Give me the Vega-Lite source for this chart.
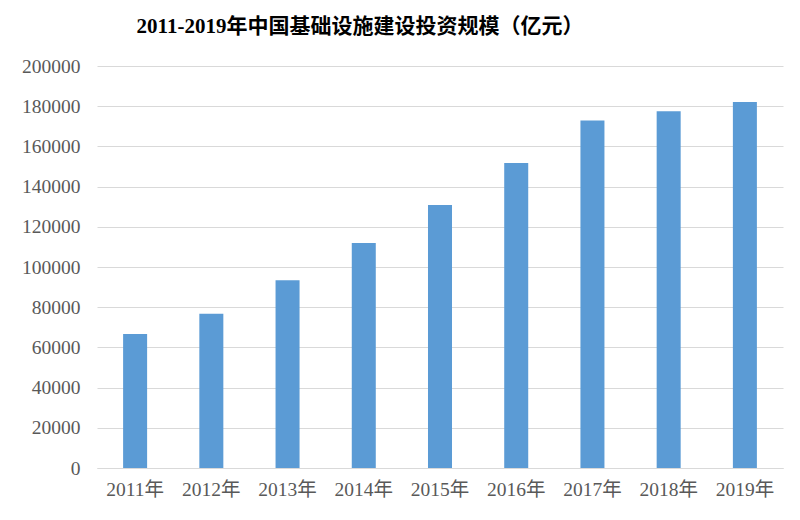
{
  "$schema": "https://vega.github.io/schema/vega-lite/v6.json",
  "width": 686,
  "height": 402,
  "autosize": {"type": "none"},
  "padding": {"left": 97, "top": 66, "right": 17, "bottom": 52},
  "background": "white",
  "title": {
    "text": "2011-2019年中国基础设施建设投资规模（亿元）",
    "font": "Liberation Serif, Noto Sans CJK SC",
    "fontSize": 21,
    "fontWeight": "bold",
    "color": "#000000",
    "anchor": "middle",
    "dx": -80,
    "offset": 19
  },
  "data": {
    "values": [
      {"year": "2011年", "value": 66700},
      {"year": "2012年", "value": 76800},
      {"year": "2013年", "value": 93400},
      {"year": "2014年", "value": 111900},
      {"year": "2015年", "value": 130800},
      {"year": "2016年", "value": 151700},
      {"year": "2017年", "value": 172900},
      {"year": "2018年", "value": 177500},
      {"year": "2019年", "value": 182100}
    ]
  },
  "mark": {"type": "bar", "color": "#5B9BD5"},
  "encoding": {
    "x": {
      "field": "year",
      "type": "nominal",
      "sort": null,
      "scale": {"paddingInner": 0.685, "paddingOuter": 0.3425},
      "axis": {
        "title": null,
        "labelAngle": 0,
        "labelFont": "Liberation Serif, Noto Sans CJK SC",
        "labelFontSize": 19.5,
        "labelColor": "#595959",
        "labelPadding": 12,
        "ticks": false,
        "domainColor": "#d9d9d9",
        "grid": false
      }
    },
    "y": {
      "field": "value",
      "type": "quantitative",
      "scale": {"domain": [0, 200000], "nice": false},
      "axis": {
        "title": null,
        "values": [0, 20000, 40000, 60000, 80000, 100000, 120000, 140000, 160000, 180000, 200000],
        "format": "d",
        "labelFont": "Liberation Serif, Noto Sans CJK SC",
        "labelFontSize": 19.5,
        "labelColor": "#595959",
        "labelPadding": 17,
        "ticks": false,
        "domain": false,
        "gridColor": "#d9d9d9",
        "gridWidth": 1
      }
    }
  },
  "config": {"view": {"stroke": null}}
}
